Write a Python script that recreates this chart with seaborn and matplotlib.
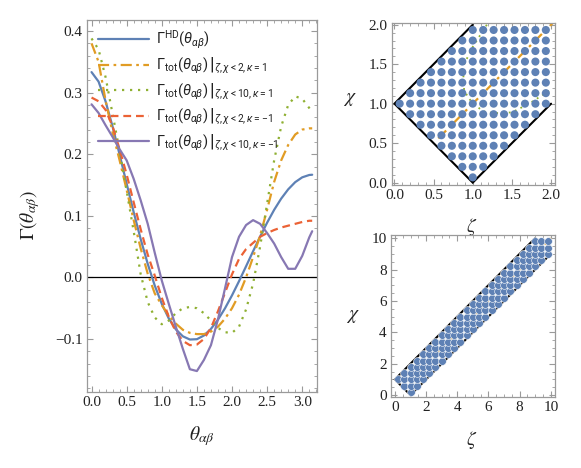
import numpy as np
import pandas as pd
import matplotlib
matplotlib.use("Agg")
import matplotlib.pyplot as plt
from matplotlib.ticker import MultipleLocator
import seaborn as sns

# ---------------- data ----------------
theta = [0.0, 0.1, 0.2, 0.3, 0.4, 0.5, 0.6, 0.7, 0.8, 0.9, 1.0, 1.1, 1.2, 1.3, 1.4, 1.5,
         1.6, 1.7, 1.8, 1.9, 2.0, 2.1, 2.2, 2.3, 2.4, 2.5, 2.6, 2.7, 2.8, 2.9, 3.0, 3.1, 3.1416]

gamma_hd = [0.3333, 0.3179, 0.2857, 0.2447, 0.1992, 0.1521, 0.1059, 0.0620, 0.0220, -0.0132,
            -0.0429, -0.0667, -0.0843, -0.0956, -0.1008, -0.1003, -0.0943, -0.0836, -0.0686,
            -0.0502, -0.0291, -0.0061, 0.0180, 0.0424, 0.0663, 0.0889, 0.1097, 0.1279, 0.1430,
            0.1547, 0.1625, 0.1663, 0.1667]

gamma_chi2_k1 = [0.380, 0.350, 0.287, 0.235, 0.190, 0.142, 0.093, 0.047, 0.006, -0.026,
                 -0.045, -0.062, -0.075, -0.085, -0.090, -0.092, -0.092, -0.088, -0.080,
                 -0.067, -0.050, -0.028, 0.000, 0.033, 0.068, 0.110, 0.155, 0.190, 0.215,
                 0.232, 0.240, 0.242, 0.242]

gamma_chi10_k1 = [0.388, 0.370, 0.325, 0.265, 0.205, 0.140, 0.075, 0.005, -0.040, -0.065,
                  -0.076, -0.070, -0.058, -0.050, -0.048, -0.050, -0.058, -0.070, -0.082,
                  -0.089, -0.090, -0.080, -0.052, -0.010, 0.050, 0.120, 0.190, 0.245, 0.280,
                  0.294, 0.290, 0.275, 0.268]

gamma_chi2_km1 = [0.292, 0.286, 0.272, 0.245, 0.208, 0.167, 0.122, 0.078, 0.037, 0.003,
                  -0.033, -0.064, -0.088, -0.103, -0.110, -0.109, -0.100, -0.082, -0.055,
                  -0.025, 0.005, 0.030, 0.046, 0.056, 0.066, 0.072, 0.077, 0.081, 0.084,
                  0.087, 0.090, 0.092, 0.092]

gamma_chi10_km1 = [0.281, 0.267, 0.247, 0.228, 0.208, 0.190, 0.160, 0.125, 0.087, 0.040,
                   -0.005, -0.043, -0.080, -0.116, -0.149, -0.152, -0.134, -0.110, -0.068,
                   -0.018, 0.033, 0.066, 0.085, 0.093, 0.087, 0.072, 0.055, 0.033, 0.014,
                   0.014, 0.035, 0.065, 0.075]

labels = [r'$\Gamma^{\mathrm{HD}}(\theta_{\alpha\beta})$',
          r'$\left.\Gamma_{\mathrm{tot}}(\theta_{\alpha\beta})\,\right|_{\zeta,\chi<2,\kappa=1}$',
          r'$\left.\Gamma_{\mathrm{tot}}(\theta_{\alpha\beta})\,\right|_{\zeta,\chi<10,\kappa=1}$',
          r'$\left.\Gamma_{\mathrm{tot}}(\theta_{\alpha\beta})\,\right|_{\zeta,\chi<2,\kappa=-1}$',
          r'$\left.\Gamma_{\mathrm{tot}}(\theta_{\alpha\beta})\,\right|_{\zeta,\chi<10,\kappa=-1}$']

# grid levels of sampled (zeta, chi) points
grid_small = [0.0667, 0.2, 0.3333, 0.4667, 0.6, 0.7333, 0.8667, 1.0, 1.1333, 1.2667,
              1.4, 1.5333, 1.6667, 1.8, 1.9333]
grid_large = [0.2, 0.6, 1.0, 1.4, 1.8, 2.2, 2.6, 3.0, 3.4, 3.8, 4.2, 4.6, 5.0, 5.4, 5.8,
              6.2, 6.6, 7.0, 7.4, 7.8, 8.2, 8.6, 9.0, 9.4, 9.8]

# boundary of the allowed region (triangle inequality)
bound_small_zeta = [1.0, 0.0, 1.0, 2.0]
bound_small_chi = [2.0, 1.0, 0.0, 1.0]
bound_large_zeta = [9.0, 0.0, 1.0, 10.0]
bound_large_chi = [10.0, 1.0, 0.0, 9.0]

# guide curves in the small panel
green_zeta = [1.18, 1.09, 1.0, 0.93, 0.89, 0.88, 0.89, 0.93, 1.0, 1.10, 1.17, 1.33, 1.5,
              1.58, 1.72, 1.86, 2.0]
green_chi = [2.0, 1.86, 1.72, 1.58, 1.5, 1.33, 1.17, 1.10, 1.0, 0.93, 0.89, 0.88, 0.89,
             0.93, 1.0, 1.09, 1.18]
diag_small = [0.56, 2.02]
diag_large = [1.4, 10.0]

# ---------------- style ----------------
BLUE = '#5E81B5'
ORANGE = '#E19C24'
GREEN = '#8FB032'
RED = '#EB6235'
PURPLE = '#8778B3'
FRAME = '#9a9a9a'
TXT = '#222222'

sns.set_style("ticks")
plt.rcParams['font.family'] = ['Liberation Serif', 'DejaVu Serif']
plt.rcParams['mathtext.fontset'] = 'custom'
plt.rcParams['mathtext.rm'] = 'Roboto'
plt.rcParams['mathtext.it'] = 'Roboto:italic'
plt.rcParams['mathtext.bf'] = 'Roboto:bold'
plt.rcParams['mathtext.sf'] = 'Roboto'

fig = plt.figure(figsize=(5.81, 4.68), dpi=100)
ax_main = fig.add_axes([0.1497, 0.1624, 0.3959, 0.795])
ax_tr = fig.add_axes([0.6742, 0.6047, 0.281, 0.3462])
ax_br = fig.add_axes([0.673, 0.1524, 0.2823, 0.3455])


def style_axes(ax, major_x, minor_x, major_y, minor_y):
    for sp in ax.spines.values():
        sp.set_color(FRAME)
        sp.set_linewidth(0.9)
    ax.xaxis.set_major_locator(MultipleLocator(major_x))
    ax.xaxis.set_minor_locator(MultipleLocator(minor_x))
    ax.yaxis.set_major_locator(MultipleLocator(major_y))
    ax.yaxis.set_minor_locator(MultipleLocator(minor_y))
    ax.tick_params(which='both', direction='in', top=True, right=True, color=FRAME,
                   labelcolor=TXT, labelsize=11, pad=3)
    ax.tick_params(which='major', length=4.5, width=0.8)
    ax.tick_params(which='minor', length=2.5, width=0.6)


def serif_label(txt):
    txt.set_math_fontfamily('stix')
    return txt


# ---------------- main panel ----------------
ax = ax_main
ax.axhline(0, color='black', lw=0.9, zorder=1)
series = [
    (gamma_hd, BLUE, '-', labels[0]),
    (gamma_chi2_k1, ORANGE, (0, (5, 2, 1.2, 2)), labels[1]),
    (gamma_chi10_k1, GREEN, (0, (1, 2.6)), labels[2]),
    (gamma_chi2_km1, RED, (0, (3.5, 2.2)), labels[3]),
    (gamma_chi10_km1, PURPLE, '-', labels[4]),
]
for vals, col, ls, lab in series:
    df = pd.DataFrame({'theta': theta, 'gamma': vals})
    sns.lineplot(data=df, x='theta', y='gamma', ax=ax, color=col, lw=1.6,
                 linestyle=ls, label=lab, legend=False, zorder=2)

ax.set_xlim(-0.065, 3.21)
ax.set_ylim(-0.186, 0.418)
style_axes(ax, 0.5, 0.1, 0.1, 0.02)
ax.set_xticks([0.0, 0.5, 1.0, 1.5, 2.0, 2.5, 3.0])
ax.set_xticklabels(['0.0', '0.5', '1.0', '1.5', '2.0', '2.5', '3.0'])
ax.set_yticks([-0.1, 0.0, 0.1, 0.2, 0.3, 0.4])
ax.set_yticklabels(['\u22120.1', '0.0', '0.1', '0.2', '0.3', '0.4'])
serif_label(ax.set_xlabel(r'$\theta_{\alpha\beta}$', fontsize=14, color=TXT))
ax.xaxis.set_label_coords(0.5, -0.085)
serif_label(ax.set_ylabel(r'$\Gamma(\theta_{\alpha\beta})$', fontsize=14, color=TXT, va='center'))
ax.yaxis.set_label_coords(-0.248, 0.476)

handles, labs = ax.get_legend_handles_labels()
leg = ax.legend(handles, labs, loc='upper left', bbox_to_anchor=(0.01, 1.0),
                frameon=False, fontsize=10.5, handlelength=3.5, handletextpad=0.5,
                labelspacing=0.35, borderaxespad=0.2)
for t in leg.get_texts():
    t.set_math_fontfamily('custom')
    t.set_color(TXT)

# ---------------- top-right panel ----------------
ax = ax_tr
pts = [(z, c) for z in grid_small for c in grid_small
       if c < z + 1 and c > 1 - z and c > z - 1]
dpts = pd.DataFrame(pts, columns=['zeta', 'chi'])
ax.plot(green_zeta, green_chi, color=GREEN, lw=1.3, linestyle=(0, (1, 2.5)), zorder=1)
ax.plot(diag_small, diag_small, color=ORANGE, lw=1.6, linestyle=(0, (5, 2, 1.2, 2)), zorder=1)
ax.plot(bound_small_zeta, bound_small_chi, color='black', lw=1.5, zorder=2,
        solid_joinstyle='miter')
sns.scatterplot(data=dpts, x='zeta', y='chi', ax=ax, s=34, color=BLUE,
                edgecolor='none', linewidth=0, zorder=3, legend=False)
ax.set_xlim(-0.035, 2.05)
ax.set_ylim(-0.03, 2.022)
style_axes(ax, 0.5, 0.1, 0.5, 0.1)
ax.set_xticks([0.0, 0.5, 1.0, 1.5, 2.0])
ax.set_xticklabels(['0.0', '0.5', '1.0', '1.5', '2.0'])
ax.set_yticks([0.0, 0.5, 1.0, 1.5, 2.0])
ax.set_yticklabels(['0.0', '0.5', '1.0', '1.5', '2.0'])
serif_label(ax.set_xlabel(r'$\zeta$', fontsize=14, color=TXT, va='center'))
ax.xaxis.set_label_coords(0.49, -0.258)
serif_label(ax.set_ylabel(r'$\chi$', fontsize=14, color=TXT, rotation=0, ha='center', va='center'))
ax.yaxis.set_label_coords(-0.255, 0.526)

# ---------------- bottom-right panel ----------------
ax = ax_br
pts = [(z, c) for z in grid_large for c in grid_large
       if c < z + 1 and c > 1 - z and c > z - 1]
dpts = pd.DataFrame(pts, columns=['zeta', 'chi'])
ax.plot(diag_large, diag_large, color=ORANGE, lw=1.6, linestyle=(0, (5, 2, 1.2, 2)), zorder=1)
ax.plot(bound_large_zeta, bound_large_chi, color='black', lw=1.5, zorder=2,
        solid_joinstyle='miter')
sns.scatterplot(data=dpts, x='zeta', y='chi', ax=ax, s=31, color=BLUE,
                edgecolor='white', linewidth=0.4, zorder=3, legend=False)
ax.set_xlim(-0.25, 10.27)
ax.set_ylim(-0.1, 10.2)
style_axes(ax, 2, 0.5, 2, 0.5)
ax.set_xticks([0, 2, 4, 6, 8, 10])
ax.set_yticks([0, 2, 4, 6, 8, 10])
serif_label(ax.set_xlabel(r'$\zeta$', fontsize=14, color=TXT, va='center'))
ax.xaxis.set_label_coords(0.49, -0.268)
serif_label(ax.set_ylabel(r'$\chi$', fontsize=14, color=TXT, rotation=0, ha='center', va='center'))
ax.yaxis.set_label_coords(-0.23, 0.495)

fig.savefig('out.png', dpi=100)
